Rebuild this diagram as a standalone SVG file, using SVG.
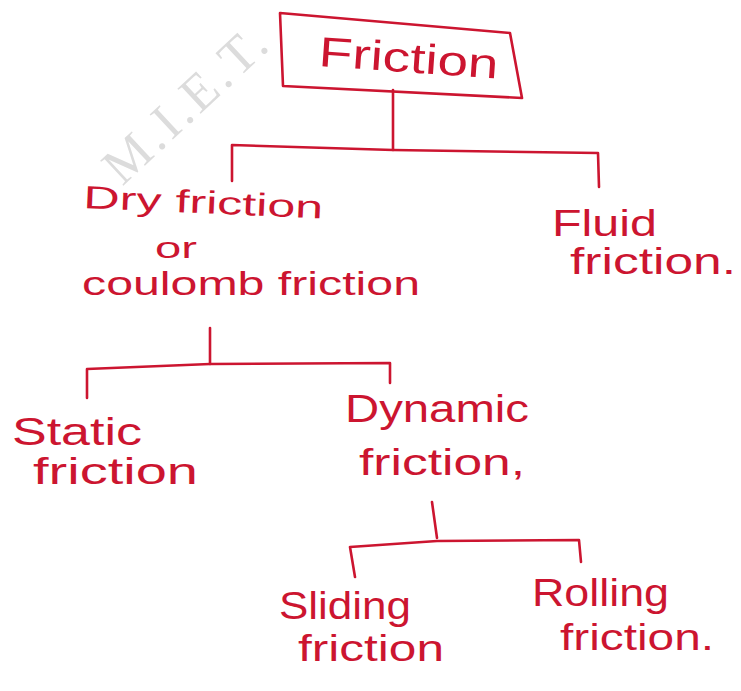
<svg xmlns="http://www.w3.org/2000/svg" width="741" height="691" viewBox="0 0 741 691">
<style>
.ink{fill:none;stroke:#cc1530;stroke-width:2.6;stroke-linecap:round;stroke-linejoin:round}
.lbl{font-family:"Liberation Sans","DejaVu Sans",sans-serif;fill:#cc1530}
.wm{font-family:"Liberation Serif","DejaVu Serif",serif;fill:#dcdcdc;font-size:52px;letter-spacing:4px}
</style>
<rect width="741" height="691" fill="#ffffff"/>
<text class="wm" x="198" y="116" text-anchor="middle" transform="rotate(-43 198 116)">M.I.E.T.</text>
<g id="connectors" class="ink">
<path d="M393,90 L393,150"/>
<path d="M232,181 L232,145 L393,150 L598,153 L599,187"/>
<path d="M210,328 L210,364"/>
<path d="M87,398 L87,369 L210,364 L390,363 L390,383"/>
<path d="M432,502 L437,538"/>
<path d="M355,577 L350,547 L437,541 L579,540 L581,562"/>
</g>
<g id="node-friction">
<polygon class="ink" points="280,13 510,33 522,98 283,86"/>
<text class="lbl" x="318" y="66" font-size="42" textLength="180" lengthAdjust="spacingAndGlyphs" transform="rotate(4 318 66)">Friction</text>
</g>
<g id="node-dry">
<text class="lbl" x="83" y="208" font-size="32" textLength="240" lengthAdjust="spacingAndGlyphs" transform="rotate(2.5 83 208)">Dry friction</text>
<text class="lbl" x="155" y="258" font-size="30" textLength="42" lengthAdjust="spacingAndGlyphs">or</text>
<text class="lbl" x="82" y="295" font-size="34" textLength="338" lengthAdjust="spacingAndGlyphs">coulomb friction</text>
</g>
<g id="node-fluid">
<text class="lbl" x="552" y="236" font-size="36" textLength="105" lengthAdjust="spacingAndGlyphs">Fluid</text>
<text class="lbl" x="570" y="274" font-size="36" textLength="166" lengthAdjust="spacingAndGlyphs">friction.</text>
</g>
<g id="node-static">
<text class="lbl" x="12" y="445" font-size="38" textLength="130" lengthAdjust="spacingAndGlyphs">Static</text>
<text class="lbl" x="33" y="484" font-size="36" textLength="165" lengthAdjust="spacingAndGlyphs">friction</text>
</g>
<g id="node-dynamic">
<text class="lbl" x="345" y="422" font-size="38" textLength="184" lengthAdjust="spacingAndGlyphs">Dynamic</text>
<text class="lbl" x="359" y="475" font-size="36" textLength="166" lengthAdjust="spacingAndGlyphs">friction,</text>
</g>
<g id="node-sliding">
<text class="lbl" x="279" y="619" font-size="38" textLength="132" lengthAdjust="spacingAndGlyphs">Sliding</text>
<text class="lbl" x="298" y="661" font-size="36" textLength="146" lengthAdjust="spacingAndGlyphs">friction</text>
</g>
<g id="node-rolling">
<text class="lbl" x="532" y="606" font-size="38" textLength="137" lengthAdjust="spacingAndGlyphs">Rolling</text>
<text class="lbl" x="560" y="650" font-size="36" textLength="154" lengthAdjust="spacingAndGlyphs">friction.</text>
</g>
</svg>
